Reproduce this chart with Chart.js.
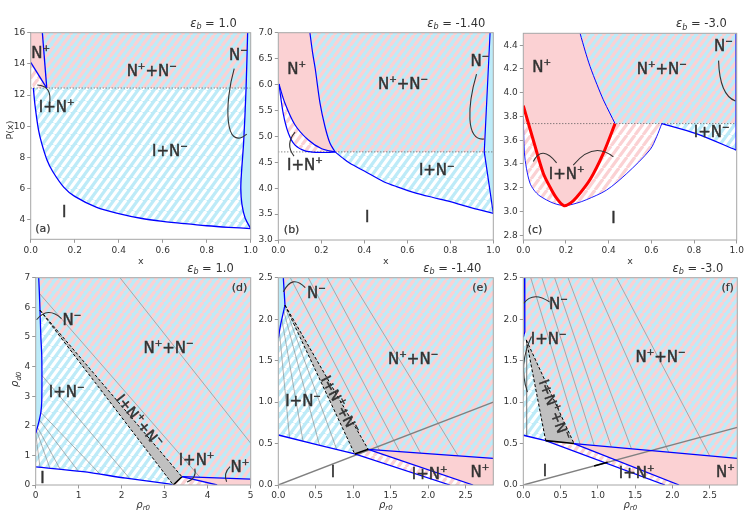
<!DOCTYPE html>
<html>
<head>
<meta charset="utf-8">
<script src="https://cdn.jsdelivr.net/npm/chart.js@4.4.1/dist/chart.umd.min.js"></script>
<style>
  html, body { margin: 0; padding: 0; background: #fff; }
  body { width: 747px; height: 528px; position: relative; overflow: hidden; }
  .pn { position: absolute; }
</style>
</head>
<body>
<script>
// ---- panel (a): eps_b = 1.0, P(x) vs x ----
const aTickX = [0, 0.2, 0.4, 0.6, 0.8, 1.0];
const aTickY = [4, 6, 8, 10, 12, 14, 16];
const aTie = 12.45;
const aICurve = [[0.012,12.45],[0.02,11.3],[0.035,9.8],[0.05,8.9],[0.075,7.8],[0.1,7.1],[0.15,6.1],[0.2,5.5],[0.3,4.8],[0.4,4.4],[0.5,4.1],[0.6,3.9],[0.7,3.75],[0.8,3.62],[0.9,3.52],[1.0,3.44]];
const aNmEdge = [[0.986,16],[0.979,12.45],[0.968,9.0],[0.958,7.0],[0.955,6.0],[0.96,5.0],[0.975,4.1],[1.0,3.44]];
const aNpEdge = [[0.053,16],[0.073,12.45]];
const aINpEdge = [[0,14.1],[0.073,12.45]];

// ---- panel (b): eps_b = -1.40 ----
const bTickX = [0, 0.2, 0.4, 0.6, 0.8, 1.0];
const bTickY = [3.0, 3.5, 4.0, 4.5, 5.0, 5.5, 6.0, 6.5, 7.0];
const bTie = 4.70;
const bPinkEdge = [[0.147,7.0],[0.16,6.6],[0.172,6.3],[0.194,5.64],[0.217,5.19],[0.24,4.87],[0.264,4.70]];
const bInner = [[0.003,6.01],[0.031,5.64],[0.078,5.22],[0.14,4.93],[0.202,4.76],[0.264,4.70]];
const bOuter = [[0.003,6.01],[0.023,5.44],[0.047,5.06],[0.078,4.83],[0.124,4.72],[0.186,4.69],[0.23,4.69],[0.264,4.70]];
const bICurve = [[0.264,4.70],[0.3,4.58],[0.333,4.48],[0.4,4.33],[0.488,4.13],[0.55,4.03],[0.644,3.90],[0.72,3.82],[0.8,3.74],[0.9,3.62],[1.0,3.515]];
const bNmEdge = [[0.985,7.0],[0.958,4.70],[1.0,3.515]];

// ---- panel (c): eps_b = -3.0 ----
const cTickX = [0, 0.2, 0.4, 0.6, 0.8, 1.0];
const cTickY = [2.8, 3.0, 3.2, 3.4, 3.6, 3.8, 4.0, 4.2, 4.4];
const cTie = 3.74;
const cRed = [[0,3.89],[0.047,3.60],[0.094,3.32],[0.13,3.19],[0.157,3.11],[0.19,3.05],[0.22,3.07],[0.25,3.12],[0.313,3.27],[0.375,3.49],[0.43,3.74]];
const cNpEdge = [[0.266,4.5],[0.29,4.35],[0.313,4.22],[0.345,4.07],[0.375,3.94],[0.405,3.83],[0.43,3.74]];
const cOuter = [[0,3.8],[0.005,3.5],[0.015,3.36],[0.031,3.24],[0.05,3.18],[0.078,3.13],[0.141,3.07],[0.195,3.05],[0.25,3.07],[0.297,3.10],[0.39,3.18],[0.485,3.32],[0.594,3.52],[0.625,3.63],[0.649,3.74]];
const cINmEdge = [[0.649,3.74],[0.81,3.655],[0.997,3.517]];
const cNmEdge = [[0.997,4.5],[0.997,3.517]];

// ---- panel (d): eps_b = 1.0, rho_d0 vs rho_r0 ----
const dTickX = [0, 1, 2, 3, 4, 5];
const dTickY = [0, 1, 2, 3, 4, 5, 6, 7];
const dNmEdge = [[0.07,7],[0.085,6.5],[0.10,5.9],[0.12,5.0],[0.14,4.4],[0.145,3.6],[0.14,2.8],[0.12,2.45],[0.085,2.2],[0.04,1.95],[0,1.74]];
const dIEdge = [[0,0.61],[1.1,0.45],[2.1,0.23],[3.05,0.045],[3.2,0]];
const dTri = [[0.10,5.9],[3.4,0.28],[3.2,0]];
const dNpTop = [[3.4,0.28],[5,0.2]];
const dNpLow = [[3.4,0.28],[4.22,0]];
const dTies = [
  [[0.085,6.47],[3.82,0.26]], [[1.96,7],[5,1.41]],
  [[0.145,3.7],[2.19,0.212]], [[0.12,2.45],[1.5,0.362]], [[0.085,2.2],[0.99,0.466]],
  [[0.04,1.95],[0.57,0.527]], [[0.02,1.84],[0.33,0.562]], [[0,1.74],[0.1,0.595]]
];

// ---- panel (e): eps_b = -1.40 ----
const eTickX = [0, 0.5, 1.0, 1.5, 2.0, 2.5];
const eTickY = [0, 0.5, 1.0, 1.5, 2.0, 2.5];
const eNmEdge = [[0.067,2.5],[0.089,2.17],[0.03,1.93],[0,1.77]];
const eIEdge = [[0,0.603],[0.5,0.49],[1.02,0.374],[2.29,0]];
const eTri = [[0.089,2.17],[1.2,0.43],[1.02,0.374]];
const eNpTop = [[1.2,0.43],[2.87,0.32]];
const eNpLow = [[1.2,0.43],[2.6,0]];
const eDiag = [[0,0],[2.87,1.0]];
const eTies = [
  [[0.16,2.5],[1.35,0.42]], [[0.40,2.5],[1.62,0.402]], [[0.65,2.5],[1.9,0.384]], [[0.95,2.5],[2.4,0.351]],
  [[0.015,1.85],[0.15,0.569]], [[0.047,2.0],[0.33,0.528]], [[0.072,2.1],[0.55,0.479]], [[0.086,2.16],[0.78,0.428]]
];

// ---- panel (f): eps_b = -3.0 ----
const fTickX = [0, 0.5, 1.0, 1.5, 2.0, 2.5];
const fTickY = [0, 0.5, 1.0, 1.5, 2.0, 2.5];
const fNmEdge = [[0.018,2.5],[0.02,1.85],[0,1.78]];
const fIEdge = [[0,0.60],[0.30,0.535],[1.9,0]];
const fTri = [[0.04,1.75],[0.68,0.50],[0.30,0.535]];
const fNpTop = [[0.68,0.50],[2.87,0.32]];
const fNpLow = [[0.68,0.50],[2.09,0]];
const fDiag = [[0,0],[2.87,0.695]];
const fSeg = [[0.95,0.23],[1.13,0.274]];
const fTies = [
  [[0.10,2.5],[0.76,0.495]], [[0.25,2.5],[0.95,0.48]], [[0.42,2.5],[1.18,0.46]],
  [[0.60,2.5],[1.45,0.437]], [[0.92,2.5],[1.95,0.396]], [[1.25,2.5],[2.5,0.35]],
  [[0.045,1.72],[0.045,0.59]]
];

// region labels: text ('^' marks a superscript char), x, y, size, rotation
const aLabels = [['N^+',0.045,14.6],['N^++N^−',0.55,13.5],['N^−',0.944,14.5],['I+N^+',0.118,11.15],['I+N^−',0.633,8.37],['I',0.152,4.42],['(a)',0.055,3.39,11]];
const bLabels = [['N^+',0.085,6.28],['N^++N^−',0.58,5.99],['N^−',0.938,6.44],['I+N^+',0.124,4.43],['I+N^−',0.737,4.32],['I',0.414,3.42],['(b)',0.062,3.19,11]];
const cLabels = [['N^+',0.086,4.21],['N^++N^−',0.649,4.19],['N^−',0.938,4.38],['I+N^−',0.883,3.66],['I+N^+',0.203,3.31],['I',0.422,2.94],['(c)',0.055,2.84,11]];
const dLabels = [['(d)',4.74,6.64,11],['N^−',0.84,5.54],['N^++N^−',3.09,4.58],['I+N^−',0.72,3.09],['I+N^++N^−',2.39,2.14,14,51],['I+N^+',3.74,0.82],['N^+',4.75,0.56],['I',0.155,0.2]];
const eLabels = [['(e)',2.69,2.37,11],['N^−',0.51,2.30],['N^++N^−',1.8,1.51],['I+N^−',0.33,1.0],['I+N^++N^−',0.81,0.96,14,62],['I',0.73,0.14],['I+N^+',2.02,0.12],['N^+',2.69,0.14]];
const fLabels = [['(f)',2.74,2.37,11],['N^−',0.47,2.17],['I+N^−',0.34,1.75],['N^++N^−',1.84,1.53],['I+N^++N^−',0.40,0.90,14,70],['I',0.29,0.16],['I+N^+',1.52,0.13],['N^+',2.71,0.14]];

// pointer curves: start, control(s), end in data units
const aArrows = [[0.085,11.4, 0.1,12.6, 0.03,12.65],[0.925,13.7, 0.88,11.5, 0.88,8.3, 0.982,9.5]];
const bArrows = [[0.073,4.62, 0.03,4.84, 0.078,5.08],[0.922,6.2, 0.88,5.6, 0.87,4.9, 0.958,4.95]];
const cArrows = [[0.156,3.41, 0.0865,3.565, 0.047,3.42],[0.234,3.39, 0.328,3.595, 0.422,3.46],[0.915,4.27, 0.92,3.98, 0.994,3.93]];
const dArrows = [[0.6,5.62, 0.28,6.05, 0.02,5.58],[3.70,0.55, 3.75,0.22, 3.52,0.1],[4.52,0.62, 4.36,0.4, 4.44,0.11]];
const eArrows = [[0.36,2.38, 0.186,2.545, 0.067,2.33]];
const fArrows = [[0.35,2.21, 0.13,2.34, 0.005,2.19],[0.11,1.79, -0.07,1.45, 0.055,1.12]];

const BLUE = '#bdebf8', PINK = '#fbd1d3', WHITE = '#ffffff', TRI = '#c0c0c0', EDGE = '#0000ff';
const TXT = '#333333';

function hatch(bg, fg) {
  const w = 8, h = 11;
  const c = document.createElement('canvas');
  c.width = w; c.height = h;
  const g = c.getContext('2d');
  g.fillStyle = bg; g.fillRect(0, 0, w, h);
  g.strokeStyle = fg; g.lineWidth = 3.2;
  for (const o of [-w, 0, w]) {
    g.beginPath(); g.moveTo(o, h); g.lineTo(o + w, 0); g.stroke();
  }
  return g.createPattern(c, 'repeat');
}

const FILL = {
  Nm: BLUE, Np: PINK,
  NpNm: hatch(BLUE, PINK), INm: hatch(BLUE, WHITE), INp: hatch(WHITE, PINK)
};

const pts = arr => arr.map(([x, y]) => ({x, y}));
const area = (arr, bg) => ({data: pts(arr), fill: 'shape', backgroundColor: bg, borderColor: 'rgba(0,0,0,0)', borderWidth: 0, pointRadius: 0, tension: 0});
const path = (arr, col, w, dash, tension) => ({data: pts(arr), fill: false, borderColor: col, borderWidth: w, borderDash: dash || [], pointRadius: 0, tension: tension || 0});
const curve = (arr, col, w) => path(arr, col, w, null, 0.3);
const rev = arr => arr.slice().reverse();

function buildA() {
  return [
    area([[0,16], ...aNpEdge, aINpEdge[0]], FILL.Np),
    area([...aNpEdge, ...rev(aNmEdge.slice(0, 2))], FILL.NpNm),
    area([...aINpEdge, aICurve[0], [0,13.0]], FILL.INp),
    area([...aICurve, ...rev(aNmEdge.slice(1))], FILL.INm),
    area([...aNmEdge, [1,16]], FILL.Nm),
    path([[0,aTie],[1,aTie]], '#555', 1, [1,2]),
    curve(aICurve, EDGE, 1.3), curve(aNmEdge, EDGE, 1.3),
    path(aNpEdge, EDGE, 1.3), path(aINpEdge, EDGE, 1.3)
  ];
}
function buildB() {
  return [
    area([[0,7], ...bPinkEdge, ...rev(bInner), [0,6.01]], FILL.Np),
    area([...bOuter, ...rev(bInner)], FILL.INp),
    area([...bPinkEdge, bNmEdge[1], bNmEdge[0]], FILL.NpNm),
    area([...bICurve, bNmEdge[1]], FILL.INm),
    area([...bNmEdge, [1,7]], FILL.Nm),
    path([[0,bTie],[1,bTie]], '#555', 1, [1,2]),
    curve(bPinkEdge, EDGE, 1.2), curve(bInner, EDGE, 1.2), curve(bOuter, EDGE, 1.2),
    curve(bICurve, EDGE, 1.2), path(bNmEdge, EDGE, 1.2)
  ];
}
function buildC() {
  return [
    area([...cOuter, cRed[0]], FILL.INp),
    area([[0,4.5], ...cRed, ...rev(cNpEdge)], FILL.Np),
    area([...cNpEdge, [0.997,cTie], cNmEdge[0]], FILL.NpNm),
    area([...cINmEdge, [0.997,cTie]], FILL.INm),
    area([...cNmEdge, [1,3.515], [1,4.5]], FILL.Nm),
    path([[0,cTie],[1,cTie]], '#555', 1, [1,2]),
    curve(cOuter, EDGE, 0.9), curve(cNpEdge, EDGE, 1.0),
    curve(cINmEdge, EDGE, 1.2), path(cNmEdge, EDGE, 1.2),
    curve(cRed, '#ff0000', 3)
  ];
}
function triSet(tri) {
  return [
    area(tri, TRI),
    path([tri[0], tri[1]], '#000', 1, [3,2]),
    path([tri[0], tri[2]], '#000', 1, [3,2]),
    path([tri[1], tri[2]], '#000', 1.6)
  ];
}
function buildD() {
  return [
    area([[0,7], ...dNmEdge], FILL.Nm),
    area([dNmEdge[0], [5,7], ...rev(dNpTop), dTri[0], dNmEdge[1]], FILL.NpNm),
    area([...dNmEdge.slice(2), ...dIEdge], FILL.INm),
    area([dTri[2], dTri[1], dNpLow[1]], FILL.INp),
    area([...dNpTop, [5,0], dNpLow[1]], FILL.Np),
    ...dTies.map(t => path(t, '#7f7f7f', 0.6)),
    curve(dNmEdge, EDGE, 1.3), curve(dIEdge, EDGE, 1.3),
    path(dNpTop, EDGE, 1.3), path(dNpLow, EDGE, 1.3),
    ...triSet(dTri)
  ];
}
function buildE() {
  return [
    area([[0,2.5], ...eNmEdge], FILL.Nm),
    area([eNmEdge[0], [2.87,2.5], ...rev(eNpTop), eTri[0]], FILL.NpNm),
    area([eTri[0], ...rev(eIEdge.slice(0, 3)), ...rev(eNmEdge.slice(1))], FILL.INm),
    area([eTri[2], eTri[1], eNpLow[1], eIEdge[3]], FILL.INp),
    area([...eNpTop, [2.87,0], eNpLow[1]], FILL.Np),
    ...eTies.map(t => path(t, '#7f7f7f', 0.6)),
    path(eDiag, '#808080', 1.4),
    path(eNmEdge, EDGE, 1.3), path(eIEdge, EDGE, 1.3),
    path(eNpTop, EDGE, 1.3), path(eNpLow, EDGE, 1.3),
    ...triSet(eTri)
  ];
}
function buildF() {
  return [
    area([[0,2.5], ...fNmEdge], FILL.Nm),
    area([fNmEdge[0], [2.87,2.5], ...rev(fNpTop), fTri[0], fNmEdge[1]], FILL.NpNm),
    area([fNmEdge[1], fTri[0], fTri[2], fIEdge[0], fNmEdge[2]], FILL.INm),
    area([fTri[2], fTri[1], fNpLow[1], fIEdge[2]], FILL.INp),
    area([...fNpTop, [2.87,0], fNpLow[1]], FILL.Np),
    ...fTies.map(t => path(t, '#7f7f7f', 0.6)),
    path(fDiag, '#808080', 1.4),
    path(fNmEdge, EDGE, 1.3), path(fIEdge, EDGE, 1.3),
    path(fNpTop, EDGE, 1.3), path(fNpLow, EDGE, 1.3),
    ...triSet(fTri),
    path(fSeg, '#000', 1.6)
  ];
}

const panels = [
  {box: [30.7, 32.7, 250.7, 239.3], xr: [0, 1], yr: [2.75, 16], xt: aTickX, yt: aTickY, xd: 1, yd: 0, eps: '1.0', tr: 14, xlab: 'x', ylab: 'P(x)', build: buildA, labels: aLabels, arrows: aArrows},
  {box: [278.3, 32.7, 493.3, 240], xr: [0, 1], yr: [3, 7], xt: bTickX, yt: bTickY, xd: 1, yd: 1, eps: '-1.40', tr: 8, xlab: 'x', build: buildB, labels: bLabels, arrows: bArrows},
  {box: [523.3, 33.3, 736.7, 240], xr: [0, 1], yr: [2.76, 4.5], xt: cTickX, yt: cTickY, xd: 1, yd: 1, eps: '-3.0', tr: 10, xlab: 'x', build: buildC, labels: cLabels, arrows: cArrows},
  {box: [35.7, 277.7, 250.7, 485], xr: [0, 5], yr: [0, 7], xt: dTickX, yt: dTickY, xd: 0, yd: 0, eps: '1.0', tr: 17, xlab: 'rho', ylab: 'rho', build: buildD, labels: dLabels, arrows: dArrows},
  {box: [278.3, 277.7, 493.3, 485], xr: [0, 2.87], yr: [0, 2.5], xt: eTickX, yt: eTickY, xd: 1, yd: 1, eps: '-1.40', tr: 12, xlab: 'rho', build: buildE, labels: eLabels, arrows: eArrows},
  {box: [523.3, 277.7, 737.3, 485], xr: [0, 2.87], yr: [0, 2.5], xt: fTickX, yt: fTickY, xd: 1, yd: 1, eps: '-3.0', tr: 14, xlab: 'rho', build: buildF, labels: fLabels, arrows: fArrows}
];

const FONT = '"DejaVu Sans"';

function rich(ctx, s, cx, cy, size, rot) {
  const parts = [];
  for (let i = 0; i < s.length; i++) {
    if (s[i] === '^') { parts.push([s[i + 1], true]); i++; }
    else parts.push([s[i], false]);
  }
  const big = size + 'px ' + FONT, small = Math.round(size * 0.62) + 'px ' + FONT;
  let w = 0;
  for (const [t, sup] of parts) { ctx.font = sup ? small : big; w += ctx.measureText(t).width; }
  ctx.save();
  ctx.translate(cx, cy);
  ctx.rotate((rot || 0) * Math.PI / 180);
  ctx.textBaseline = 'middle';
  ctx.textAlign = 'left';
  ctx.fillStyle = TXT;
  ctx.strokeStyle = TXT;
  ctx.lineWidth = size > 12 ? 0.45 : 0.2;
  let xx = -w / 2;
  for (const [t, sup] of parts) {
    ctx.font = sup ? small : big;
    const yy = sup ? -size * 0.36 : 0;
    ctx.fillText(t, xx, yy);
    ctx.strokeText(t, xx, yy);
    xx += ctx.measureText(t).width;
  }
  ctx.restore();
}

// italic greek with subscript, e.g. rho_r0
function sym(ctx, main, sub, x, y, size, rot) {
  ctx.save();
  ctx.translate(x, y);
  ctx.rotate((rot || 0) * Math.PI / 180);
  ctx.textBaseline = 'middle';
  ctx.fillStyle = TXT;
  const f1 = 'italic ' + size + 'px ' + FONT, f2 = 'italic ' + Math.round(size * 0.7) + 'px ' + FONT;
  ctx.font = f1; const w1 = ctx.measureText(main).width;
  ctx.font = f2; const w2 = ctx.measureText(sub).width;
  let xx = -(w1 + w2) / 2;
  ctx.font = f1; ctx.fillText(main, xx, 0);
  ctx.font = f2; ctx.fillText(sub, xx + w1, size * 0.3);
  ctx.restore();
}

function decor(p) {
  return {
    id: 'decor',
    afterDatasetsDraw(chart) {
      const {ctx, chartArea: a, scales: {x, y}} = chart;
      const px = v => x.getPixelForValue(v), py = v => y.getPixelForValue(v);
      ctx.save();
      ctx.strokeStyle = '#333';
      ctx.lineWidth = 1.1;
      for (const ar of p.arrows) {
        ctx.beginPath();
        ctx.moveTo(px(ar[0]), py(ar[1]));
        if (ar.length === 6) ctx.quadraticCurveTo(px(ar[2]), py(ar[3]), px(ar[4]), py(ar[5]));
        else ctx.bezierCurveTo(px(ar[2]), py(ar[3]), px(ar[4]), py(ar[5]), px(ar[6]), py(ar[7]));
        ctx.stroke();
      }
      for (const [t, lx, ly, sz, rot] of p.labels) rich(ctx, t, px(lx), py(ly), sz || 15, rot || 0);
      // frame
      ctx.strokeStyle = '#a6a6a6';
      ctx.lineWidth = 1;
      ctx.strokeRect(a.left, a.top, a.right - a.left, a.bottom - a.top);
      // title: eps_b = value
      const ty = a.top - 9, f1 = 'italic 11.5px ' + FONT, f2 = 'italic 8px ' + FONT, f3 = '11.5px ' + FONT;
      const rest = ' = ' + p.eps;
      ctx.font = f3; const w3 = ctx.measureText(rest).width;
      ctx.font = f2; const w2 = ctx.measureText('b').width;
      ctx.font = f1; const w1 = ctx.measureText('ε').width;
      let tx = a.right - p.tr - (w1 + w2 + w3);
      ctx.fillStyle = TXT;
      ctx.textBaseline = 'middle';
      ctx.textAlign = 'left';
      ctx.font = f1; ctx.fillText('ε', tx, ty);
      ctx.font = f2; ctx.fillText('b', tx + w1, ty + 3.5);
      ctx.font = f3; ctx.fillText(rest, tx + w1 + w2, ty);
      // axis titles
      const cx = (a.left + a.right) / 2, cy = (a.top + a.bottom) / 2;
      if (p.xlab === 'x') {
        ctx.font = '9.5px ' + FONT; ctx.textAlign = 'center';
        ctx.fillText('x', cx, a.bottom + 22);
      } else {
        sym(ctx, 'ρ', 'r0', cx, a.bottom + 20, 10, 0);
      }
      if (p.ylab === 'P(x)') {
        ctx.save();
        ctx.translate(a.left - 20, cy - 6);
        ctx.rotate(-Math.PI / 2);
        ctx.font = '9.5px ' + FONT; ctx.textAlign = 'center';
        ctx.fillText('P(x)', 0, 0);
        ctx.restore();
      } else if (p.ylab === 'rho') {
        sym(ctx, 'ρ', 'd0', a.left - 20, cy - 2, 10, -90);
      }
      ctx.restore();
    }
  };
}

Chart.defaults.font.family = 'DejaVu Sans';
Chart.defaults.font.size = 9;
Chart.defaults.color = TXT;

for (const p of panels) {
  const [L, T, R, B] = p.box;
  const left = Math.floor(L - 32), top = Math.floor(T - 30);
  const width = Math.ceil(R + 10) - left, height = Math.ceil(B + 30) - top;
  const wy = L - left, pt = T - top, pr = left + width - R, hx = top + height - B;
  const div = document.createElement('div');
  div.className = 'pn';
  div.style.left = left + 'px'; div.style.top = top + 'px';
  div.style.width = width + 'px'; div.style.height = height + 'px';
  const cv = document.createElement('canvas');
  cv.width = width; cv.height = height;
  cv.style.width = width + 'px'; cv.style.height = height + 'px';
  div.appendChild(cv);
  document.body.appendChild(div);

  const datasets = p.build();
  datasets.forEach((d, i) => { d.order = -i; });

  const axis = (range, ticks, dec, isX) => ({
    type: 'linear', min: range[0], max: range[1],
    border: {display: false},
    grid: {drawOnChartArea: false, drawTicks: true, tickLength: 3.5, color: '#999', lineWidth: 1},
    ticks: {padding: 2, maxRotation: 0, autoSkip: false, color: TXT, font: {size: 9}, callback: v => Number(v).toFixed(dec)},
    afterBuildTicks: s => { s.ticks = ticks.map(v => ({value: v})); },
    afterFit: s => {
      if (isX) { s.height = hx; s.paddingLeft = 0; s.paddingRight = 0; }
      else { s.width = wy; s.paddingTop = 0; s.paddingBottom = 0; }
    }
  });

  new Chart(cv, {
    type: 'line',
    data: {datasets},
    options: {
      responsive: false,
      animation: false,
      events: [],
      layout: {padding: {top: pt, right: pr, left: 0, bottom: 0}},
      plugins: {legend: {display: false}, tooltip: {enabled: false}, title: {display: false}},
      scales: {x: axis(p.xr, p.xt, p.xd, true), y: axis(p.yr, p.yt, p.yd, false)}
    },
    plugins: [decor(p)]
  });
}
</script>
</body>
</html>
